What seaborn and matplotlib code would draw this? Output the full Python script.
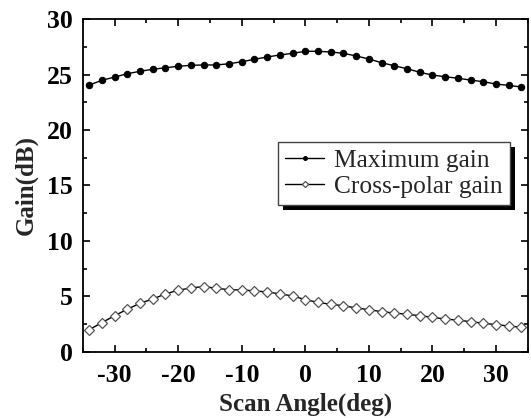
import numpy as np
import pandas as pd
import matplotlib
matplotlib.use("Agg")
import matplotlib.pyplot as plt
import seaborn as sns
from matplotlib.patches import Rectangle
from matplotlib.ticker import MultipleLocator

scan_angle = list(range(-34, 35, 2))
max_gain = [24.05, 24.48, 24.77, 25.07, 25.29, 25.47, 25.61, 25.74, 25.83, 25.86,
            25.86, 25.97, 26.15, 26.37, 26.58, 26.76, 26.91, 27.09, 27.09, 27.03,
            26.91, 26.67, 26.40, 26.06, 25.79, 25.52, 25.20, 24.95, 24.80, 24.66,
            24.50, 24.35, 24.14, 24.02, 23.87]
cross_gain = [2.01, 2.64, 3.27, 3.85, 4.39, 4.77, 5.23, 5.56, 5.77, 5.89,
              5.74, 5.61, 5.59, 5.50, 5.41, 5.23, 5.05, 4.71, 4.47, 4.29,
              4.17, 3.96, 3.81, 3.63, 3.51, 3.39, 3.27, 3.12, 2.97, 2.86,
              2.73, 2.59, 2.46, 2.34, 2.22]
series_names = ["Maximum gain", "Cross-polar gain"]
x_ticks = [-30, -20, -10, 0, 10, 20, 30]
y_ticks = [0, 5, 10, 15, 20, 25, 30]

sns.set_style("ticks")
plt.rcParams['font.family'] = ['Liberation Serif', 'DejaVu Serif']
plt.rcParams['axes.unicode_minus'] = False

fig = plt.figure(figsize=(5.31, 4.18), dpi=100)
ax = fig.add_axes([0.156, 0.158, 0.838, 0.7965])

df1 = pd.DataFrame({"x": scan_angle, "y": max_gain})
df2 = pd.DataFrame({"x": scan_angle, "y": cross_gain})
sns.lineplot(data=df1, x="x", y="y", ax=ax, color="black", lw=1.0,
             marker="o", markersize=4.6, markerfacecolor="black",
             markeredgecolor="black", label=series_names[0])
sns.lineplot(data=df2, x="x", y="y", ax=ax, color="black", lw=1.0,
             marker="D", markersize=5.2, markerfacecolor="white",
             markeredgecolor="#555555", markeredgewidth=0.9,
             label=series_names[1])

ax.set_xlim(-35, 35)
ax.set_ylim(0, 30)
ax.set_xticks(x_ticks)
ax.set_yticks(y_ticks)
ax.xaxis.set_minor_locator(MultipleLocator(5))
ax.yaxis.set_minor_locator(MultipleLocator(2.5))
ax.set_xticklabels([f"{v}" for v in x_ticks])
ax.set_yticklabels([f"{v}" for v in y_ticks])
ax.tick_params(which="both", direction="in", top=True, right=True,
               width=1.2, colors="black")
ax.tick_params(which="major", length=5, labelsize=18.5)
ax.tick_params(axis="y", which="major", pad=7)
ax.tick_params(axis="x", which="major", pad=9)
ax.tick_params(which="minor", length=3)
for lab in ax.get_xticklabels() + ax.get_yticklabels():
    lab.set_fontweight("bold")
for s in ax.spines.values():
    s.set_linewidth(1.3)
    s.set_color("black")

ax.set_xlabel("Scan Angle(deg)", fontsize=18, fontweight="bold", labelpad=4)
ax.set_ylabel("Gain(dB)", fontsize=18, fontweight="bold", labelpad=7)

leg = ax.legend(loc="upper left", bbox_to_anchor=(0.438, 0.631),
                frameon=True, fancybox=False, fontsize=18.3,
                handlelength=1.55, handletextpad=0.4, borderpad=0.28,
                labelspacing=0.12, markerscale=0.6, borderaxespad=0)
leg.get_frame().set_edgecolor("#444444")
leg.get_frame().set_linewidth(1.0)
leg.get_frame().set_facecolor("white")
leg.get_frame().set_alpha(1)
leg.set_zorder(10)

fig.canvas.draw()
bb = leg.get_frame().get_window_extent()
sh = Rectangle((bb.x0 + 5, bb.y0 - 5), bb.width, bb.height, transform=None,
               facecolor="black", edgecolor="none", zorder=9, clip_on=False)
ax.add_patch(sh)

fig.savefig("out.png", dpi=100)
